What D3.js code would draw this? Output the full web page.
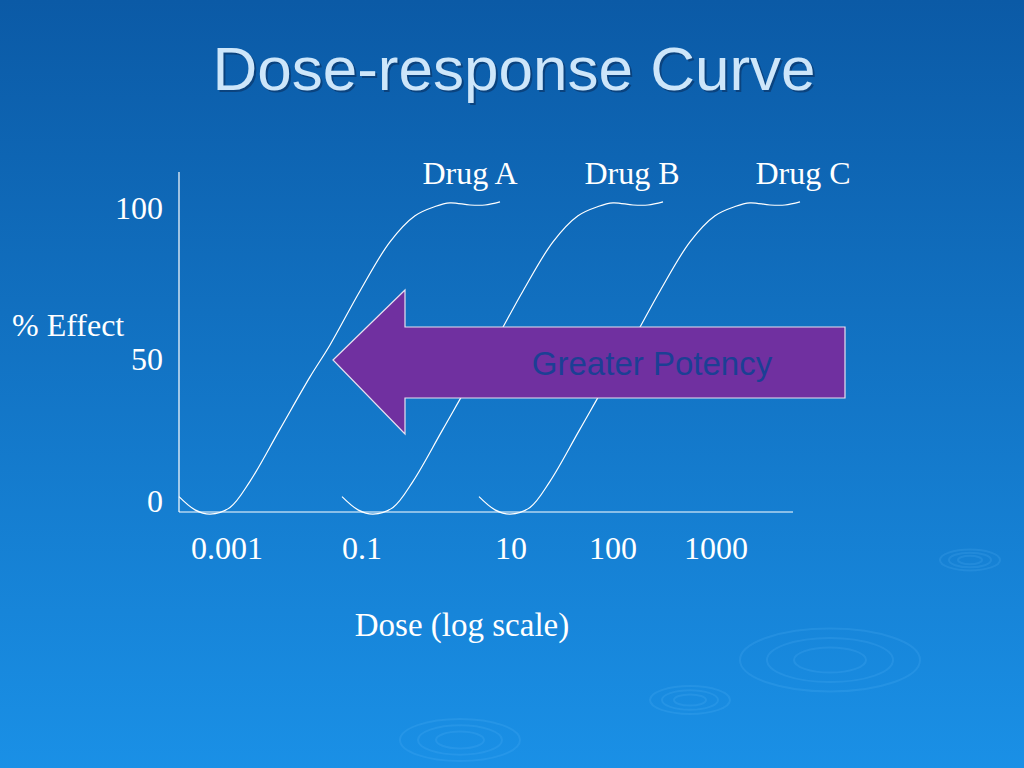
<!DOCTYPE html>
<html><head><meta charset="utf-8">
<script src="https://cdn.jsdelivr.net/npm/d3@7"></script>
<style>body{margin:0;overflow:hidden}</style>
</head><body>
<svg id="c" width="1024" height="768"></svg>
<script>
// shape of one dose-response curve: [dose offset, % effect]
const curveShape = [[0,5],[16,0.7],[31,-0.7],[51,1.5],[71,10],[101,27],[131,44],[151,54.4],[181,72],[211,88],[236,96.5],[256,99.5],[271,100.7],[291,100],[306,100],[321,101]]
const drugs = ['Drug A', 'Drug B', 'Drug C']
const drugShift = [0, 163, 300]
const labelPos = [291, 453, 624]
const tickLabels = ['0.001', '0.1', '10', '100', '1000']
const tickPos = [48, 183, 332, 434, 537]
const yTicks = [0, 50, 100]

const svg = d3.select('#c')
const defs = svg.append('defs')
const bg = defs.append('linearGradient').attr('id', 'bg').attr('x1', 0).attr('y1', 0).attr('x2', 0).attr('y2', 1)
bg.append('stop').attr('offset', '0%').attr('stop-color', '#0b5aa6')
bg.append('stop').attr('offset', '100%').attr('stop-color', '#1a90e6')
svg.append('rect').attr('width', 1024).attr('height', 768).attr('fill', 'url(#bg)')

// faint ripples
const ripples = [[970, 560, 30], [830, 660, 90], [690, 700, 40], [460, 740, 60]]
ripples.forEach(([cx, cy, r]) => {
  [1, 0.7, 0.4].forEach(k => svg.append('ellipse').attr('cx', cx).attr('cy', cy).attr('rx', r * k).attr('ry', r * k * 0.35)
    .attr('fill', 'none').attr('stroke', '#6cc0ff').attr('stroke-opacity', 0.15).attr('stroke-width', 2))
})

const sans = 'Liberation Sans, Arial'
svg.append('text').attr('x', 514).attr('y', 90).attr('text-anchor', 'middle')
  .attr('font-family', sans).attr('font-size', 62).attr('fill', '#0a3060').attr('opacity', 0.6)
  .text('Dose-response Curve').attr('transform', 'translate(2,2)')
svg.append('text').attr('x', 514).attr('y', 90).attr('text-anchor', 'middle')
  .attr('font-family', sans).attr('font-size', 62).attr('fill', '#cde6fa')
  .text('Dose-response Curve')

const x = d3.scaleLinear().domain([0, 614]).range([179, 793])
const y = d3.scaleLinear().domain([0, 100]).range([512, 205])

const serif = 'Liberation Serif, Times New Roman'
svg.append('line').attr('x1', x(0)).attr('x2', x(0)).attr('y1', 172).attr('y2', y(0)).attr('stroke', '#fff').attr('stroke-width', 1.2)
svg.append('line').attr('x1', x(0)).attr('x2', x(614)).attr('y1', y(0)).attr('y2', y(0)).attr('stroke', '#fff').attr('stroke-width', 1.2)

svg.selectAll('.yt').data(yTicks).join('text').attr('x', 163).attr('y', d => y(d) + (d === 0 ? 0 : d === 100 ? 14 : 11))
  .attr('text-anchor', 'end').attr('font-family', serif).attr('font-size', 32).attr('fill', '#fff').text(d => d)
svg.selectAll('.xt').data(tickLabels).join('text').attr('x', (d, i) => x(tickPos[i])).attr('y', 559)
  .attr('text-anchor', 'middle').attr('font-family', serif).attr('font-size', 32).attr('fill', '#fff').text(d => d)
svg.append('text').attr('x', 12).attr('y', 336).attr('font-family', serif).attr('font-size', 32).attr('fill', '#fff').text('% Effect')
svg.append('text').attr('x', 462).attr('y', 636).attr('text-anchor', 'middle').attr('font-family', serif).attr('font-size', 33).attr('fill', '#fff').text('Dose (log scale)')

const line = d3.line().x(d => x(d[0])).y(d => y(d[1])).curve(d3.curveCatmullRom)
drugs.forEach((name, i) => {
  svg.append('path').attr('d', line(curveShape.map(p => [p[0] + drugShift[i], p[1]])))
    .attr('fill', 'none').attr('stroke', '#fff').attr('stroke-width', 1.2)
  svg.append('text').attr('x', x(labelPos[i])).attr('y', 184).attr('text-anchor', 'middle')
    .attr('font-family', serif).attr('font-size', 32).attr('fill', '#fff').text(name)
})

// arrow
svg.append('path').attr('d', 'M333,360 L405,290 L405,327 L845,327 L845,398 L405,398 L405,434 Z')
  .attr('fill', '#7030a0').attr('stroke', '#e8e0f0').attr('stroke-width', 1.2)
svg.append('text').attr('x', 652).attr('y', 375).attr('text-anchor', 'middle')
  .attr('font-family', sans).attr('font-size', 33).attr('fill', '#1c3f94').text('Greater Potency')
</script>
</body></html>
